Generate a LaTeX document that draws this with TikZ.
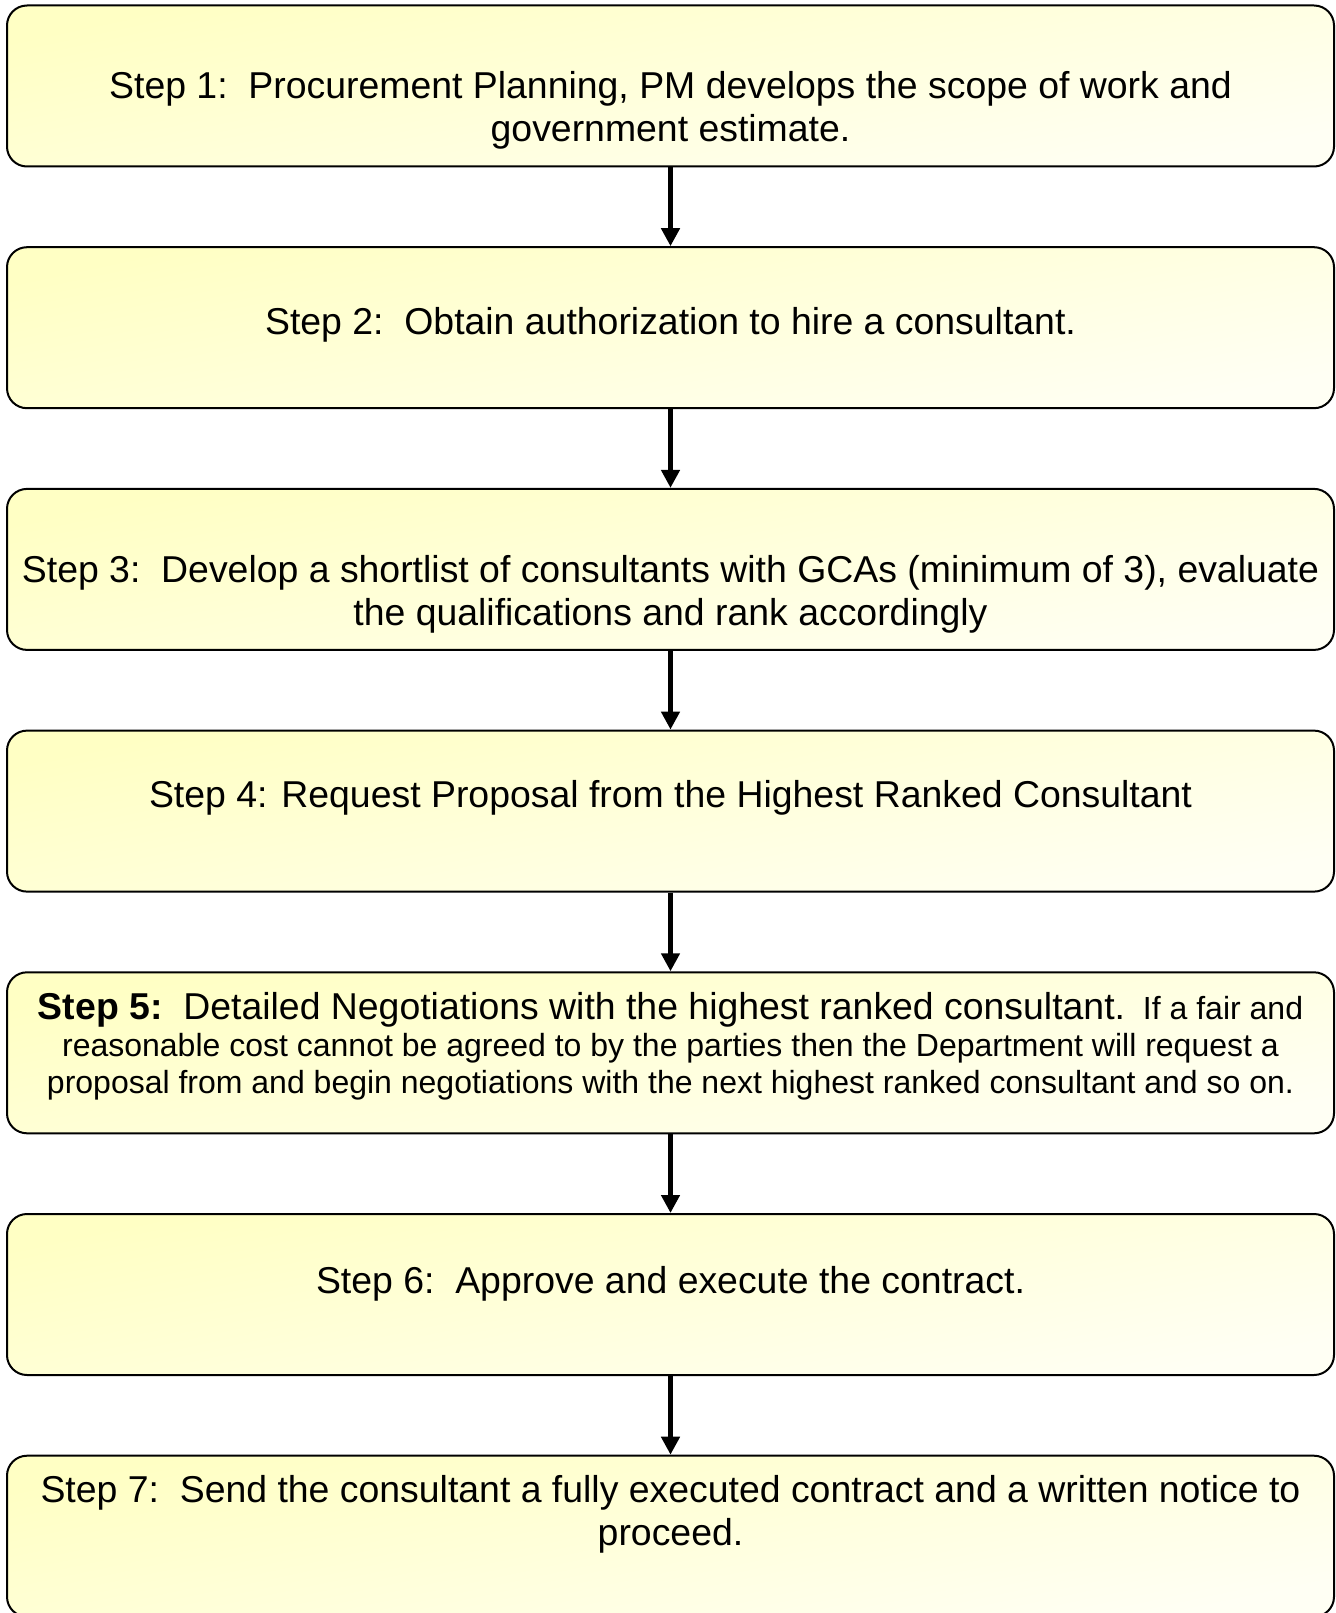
\documentclass[tikz,border=0pt]{standalone}
\usepackage{fontspec}
\setmainfont{Liberation Sans}
\usetikzlibrary{arrows.meta}
\definecolor{boxtop}{RGB}{255,255,196}
\definecolor{boxbot}{RGB}{255,255,244}
\newcommand{\bigtxt}{\fontsize{37.4}{43.2}\selectfont}
\newcommand{\smalltxt}{\fontsize{32}{37}\selectfont}
\begin{document}
\begin{tikzpicture}[x=1pt,y=-1pt,
  stepbox/.style={draw=black, line width=2pt, rounded corners=20pt,
    minimum width=1327pt, minimum height=161pt, inner sep=0pt,
    top color=boxtop, bottom color=boxbot, shading angle=12},
  steptext/.style={align=center, font=\bigtxt, inner sep=0pt},
  flow/.style={-{Triangle[width=18pt,length=18pt]}, line width=4.5pt}]
\clip (0,0) rectangle (1335,1613);

% the seven process boxes
\foreach \k in {1,...,7}{
  \node[stepbox] (b\k) at (670.5, {5.5 + (\k-1)*241.7 + 80.5}) {};
}

% box texts
\node[steptext] (t1) at (670.5,110) {Step 1:\ \ Procurement Planning, PM develops the scope of work and\\government estimate.};
\node[steptext] (t2) at (670.5,325) {Step 2:\ \ Obtain authorization to hire a consultant.};
\node[steptext] (t3) at (670.5,594.5) {Step 3:\ \ Develop a shortlist of consultants with GCAs (minimum of 3), evaluate\\the qualifications and rank accordingly};
\node[steptext] (t4) at (670.5,798) {Step 4: Request Proposal from the Highest Ranked Consultant};
\node[steptext, font=\smalltxt] (t5) at (670.5,1046.5) {{\bigtxt\textbf{Step 5:}\ \ Detailed Negotiations with the highest ranked consultant.}\ \ If a fair and\\reasonable cost cannot be agreed to by the parties then the Department will request a\\proposal from and begin negotiations with the next highest ranked consultant and so on.};
\node[steptext] (t6) at (670.5,1283.5) {Step 6:\ \ Approve and execute the contract.};
\node[steptext] (t7) at (670.5,1514) {Step 7:\ \ Send the consultant a fully executed contract and a written notice to\\proceed.};

% connectors
\foreach \a/\b in {1/2,2/3,3/4,4/5,5/6,6/7}{
  \draw[flow] (b\a.south) -- (b\b.north);
}
\end{tikzpicture}
\end{document}
